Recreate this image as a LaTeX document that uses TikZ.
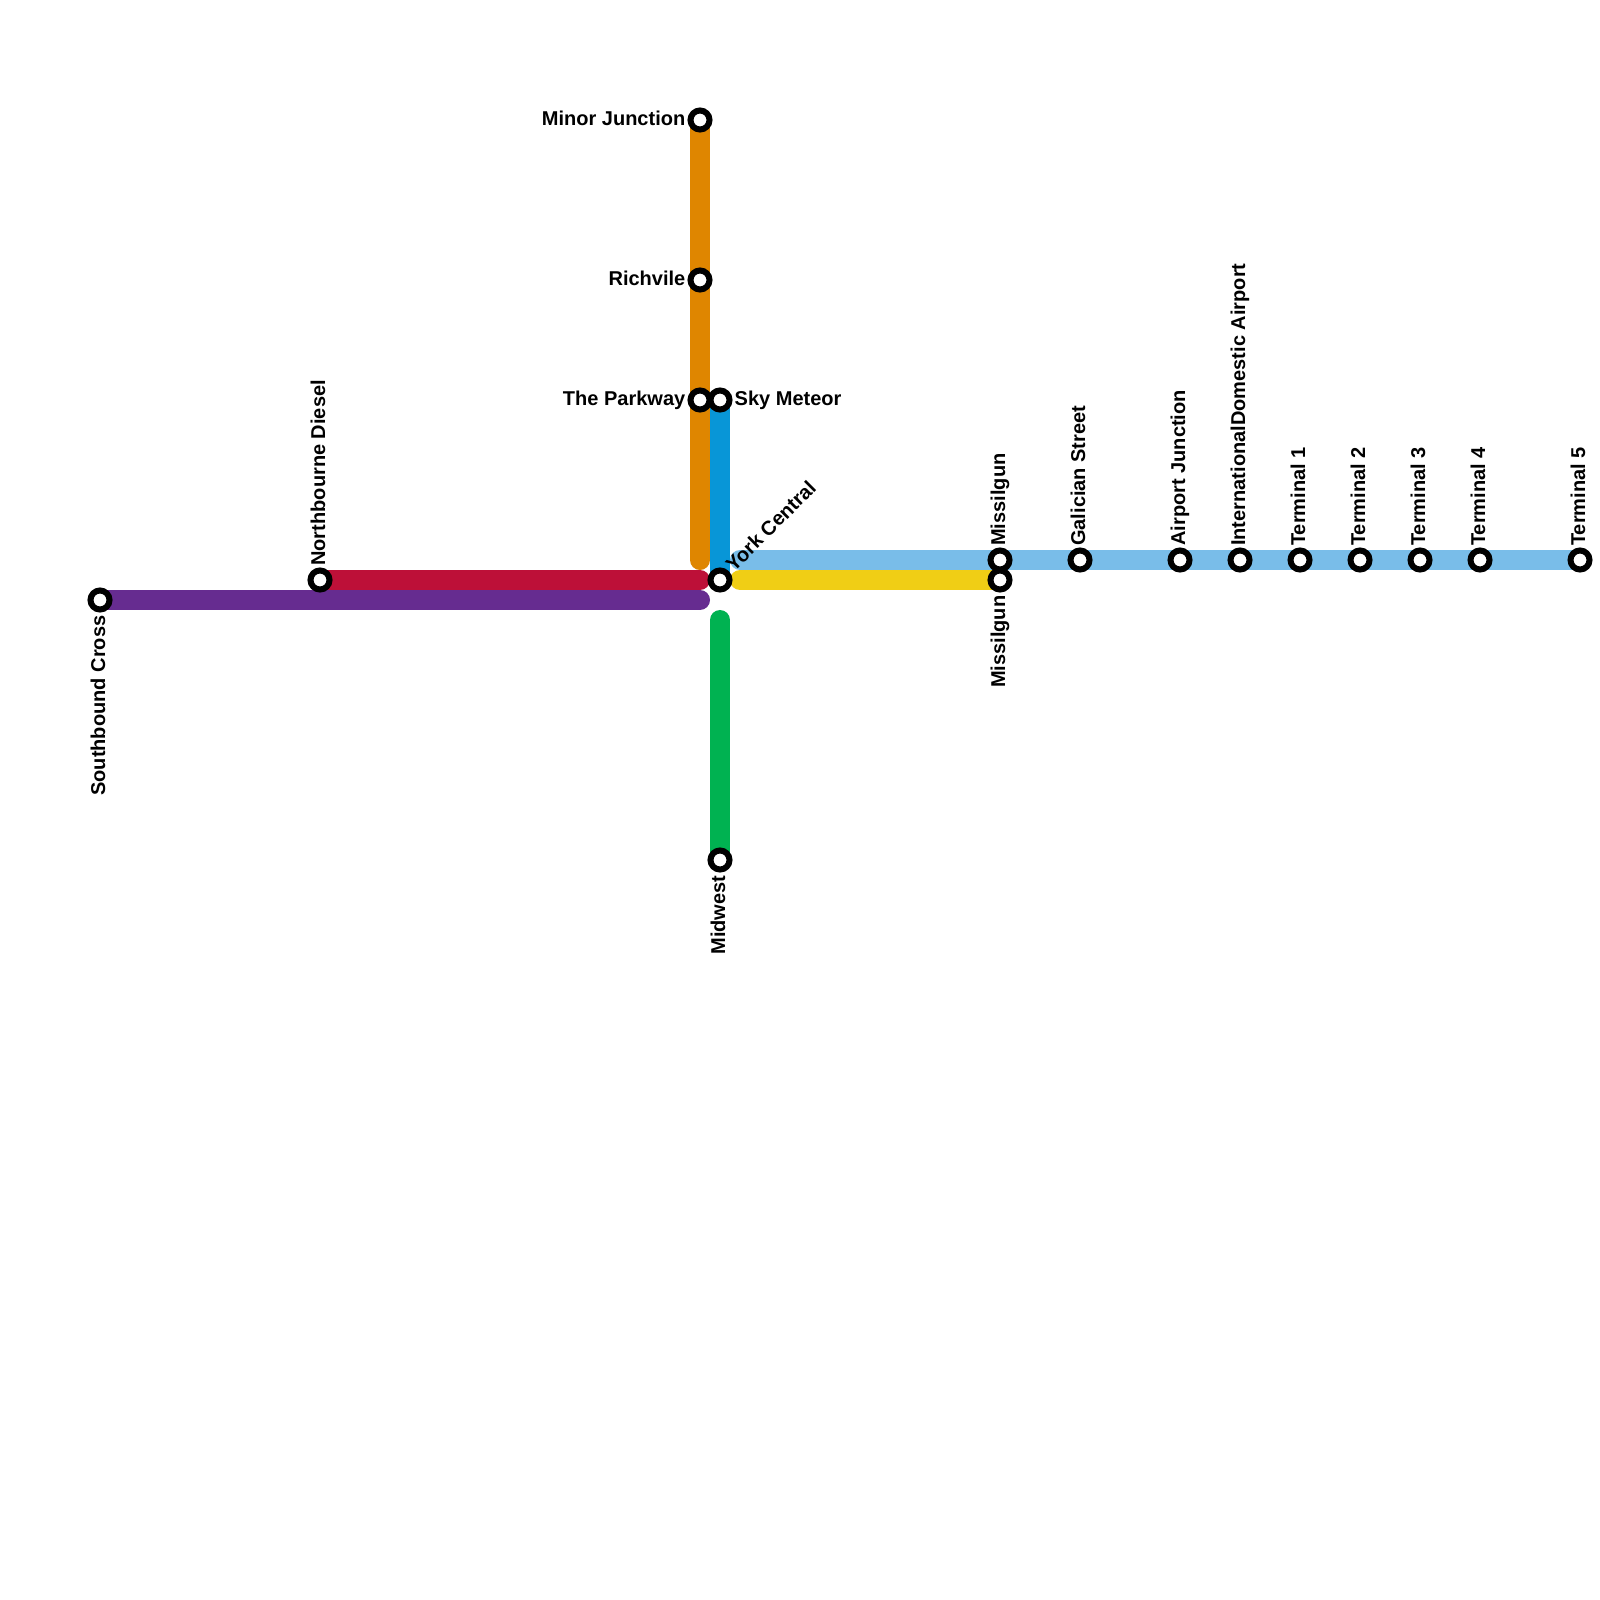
\documentclass[tikz,border=0pt]{standalone}
\usepackage{fontspec}
\setmainfont{Liberation Sans}
\definecolor{orangeline}{HTML}{DF8600}
\definecolor{blueline}{HTML}{0896D7}
\definecolor{skyline}{HTML}{79BDE9}
\definecolor{yellowline}{HTML}{F0CE15}
\definecolor{redline}{HTML}{BD1038}
\definecolor{purpleline}{HTML}{662C90}
\definecolor{greenline}{HTML}{00B251}
\tikzset{
  metro/.style = {line width = 0.2cm, line cap = round},
  stop/.style = {circle, draw = black, fill = white, line width = 0.06cm, minimum size = 0.19cm, inner sep = 0pt},
  stationname/.style = {font = \bfseries\fontsize{5.69pt}{6pt}\selectfont, inner sep = 0pt},
  upname/.style = {stationname, rotate = 90, anchor = base west, xshift = 0.135cm, yshift = -0.05cm},
  downname/.style = {stationname, rotate = 90, anchor = base east, xshift = -0.15cm, yshift = -0.05cm},
  leftname/.style = {stationname, anchor = base east, xshift = -0.14cm, yshift = -0.05cm},
  rightname/.style = {stationname, anchor = base west, xshift = 0.14cm, yshift = -0.05cm}
}
\begin{document}
\begin{tikzpicture}[x = 0.01cm, y = -0.01cm]
\useasboundingbox (0,0) rectangle (1600,1600);
\coordinate (minor) at (700,120);
\coordinate (richvile) at (700,280);
\coordinate (parkway) at (700,400);
\coordinate (orangeend) at (700,560);
\coordinate (meteor) at (720,400);
\coordinate (york) at (720,580);
\coordinate (skystart) at (740,560);
\coordinate (missilguna) at (1000,560);
\coordinate (galician) at (1080,560);
\coordinate (airport) at (1180,560);
\coordinate (international) at (1240,560);
\coordinate (terminala) at (1300,560);
\coordinate (terminalb) at (1360,560);
\coordinate (terminalc) at (1420,560);
\coordinate (terminald) at (1480,560);
\coordinate (terminale) at (1580,560);
\coordinate (yellowstart) at (740,580);
\coordinate (missilgunb) at (1000,580);
\coordinate (northbourne) at (320,580);
\coordinate (redend) at (700,580);
\coordinate (southbound) at (100,600);
\coordinate (purpleend) at (700,600);
\coordinate (greenstart) at (720,620);
\coordinate (midwest) at (720,860);
% lines
\draw [metro, orangeline] (minor) -- (richvile) -- (parkway) -- (orangeend);
\draw [metro, blueline] (meteor) -- (york);
\draw [metro, skyline] (skystart) -- (missilguna) -- (galician) -- (airport) -- (international) -- (terminala) -- (terminalb) -- (terminalc) -- (terminald) -- (terminale);
\draw [metro, yellowline] (yellowstart) -- (missilgunb);
\draw [metro, redline] (northbourne) -- (redend);
\draw [metro, purpleline] (southbound) -- (purpleend);
\draw [metro, greenline] (greenstart) -- (midwest);
% stations
\node [stop] (minorstop) at (minor) {};
\node [stop] (richvilestop) at (richvile) {};
\node [stop] (parkwaystop) at (parkway) {};
\node [stop] (meteorstop) at (meteor) {};
\node [stop] (yorkstop) at (york) {};
\node [stop] (missilgunastop) at (missilguna) {};
\node [stop] (missilgunbstop) at (missilgunb) {};
\node [stop] (galicianstop) at (galician) {};
\node [stop] (airportstop) at (airport) {};
\node [stop] (internationalstop) at (international) {};
\node [stop] (terminalastop) at (terminala) {};
\node [stop] (terminalbstop) at (terminalb) {};
\node [stop] (terminalcstop) at (terminalc) {};
\node [stop] (terminaldstop) at (terminald) {};
\node [stop] (terminalestop) at (terminale) {};
\node [stop] (northbournestop) at (northbourne) {};
\node [stop] (southboundstop) at (southbound) {};
\node [stop] (midweststop) at (midwest) {};
% labels
\node [leftname] (minorname) at (minor) {Minor Junction};
\node [leftname] (richvilename) at (richvile) {Richvile};
\node [leftname] (parkwayname) at (parkway) {The Parkway};
\node [rightname] (meteorname) at (meteor) {Sky Meteor};
\node [stationname, rotate = 45, anchor = base west, xshift = 0.146cm, yshift = -0.047cm] (yorkname) at (york) {York Central};
\node [upname] (missilgunaname) at (missilguna) {Missilgun};
\node [downname] (missilgunbname) at (missilgunb) {Missilgun};
\node [upname] (galicianname) at (galician) {Galician Street};
\node [upname] (airportname) at (airport) {Airport Junction};
\node [upname] (internationalname) at (international) {InternationalDomestic Airport};
\node [upname] (terminalaname) at (terminala) {Terminal 1};
\node [upname] (terminalbname) at (terminalb) {Terminal 2};
\node [upname] (terminalcname) at (terminalc) {Terminal 3};
\node [upname] (terminaldname) at (terminald) {Terminal 4};
\node [upname] (terminalename) at (terminale) {Terminal 5};
\node [upname] (northbournename) at (northbourne) {Northbourne Diesel};
\node [downname] (southboundname) at (southbound) {Southbound Cross};
\node [downname] (midwestname) at (midwest) {Midwest};
\end{tikzpicture}
\end{document}
